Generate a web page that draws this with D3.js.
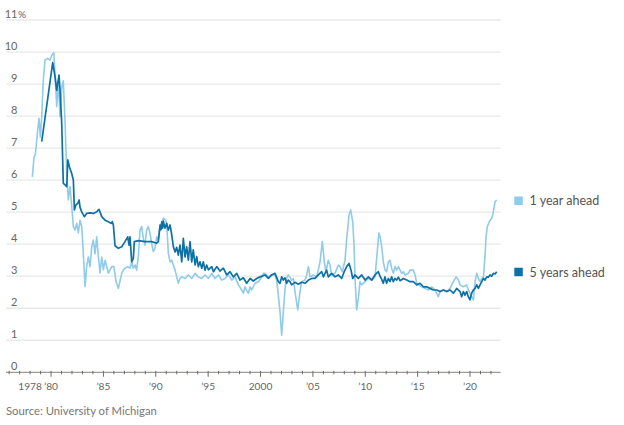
<!DOCTYPE html>
<html>
<head>
<meta charset="utf-8">
<script src="https://cdn.jsdelivr.net/npm/d3@7"></script>
<style>
  html, body { margin: 0; padding: 0; background: #fff; }
  svg { display: block; }
  text { font-family: Lato, "Noto Sans", sans-serif; }
</style>
</head>
<body>
<svg id="chart" width="624" height="425"></svg>
<script>
// ---- Data ----
const oneYearDates = [1978.21,1978.38,1978.5,1978.73,1978.85,1978.98,1979.11,1979.26,1979.43,1979.68,1979.9,1980.07,1980.26,1980.38,1980.54,1980.7,1980.86,1981.02,1981.17,1981.34,1981.5,1981.65,1981.81,1981.98,1982.13,1982.29,1982.45,1982.6,1982.77,1982.93,1983.08,1983.25,1983.4,1983.56,1983.72,1983.89,1984.04,1984.2,1984.36,1984.52,1984.68,1984.84,1985.0,1985.16,1985.47,1985.8,1986.0,1986.2,1986.43,1986.6,1986.75,1986.9,1987.06,1987.32,1987.54,1987.7,1987.86,1988.02,1988.17,1988.33,1988.49,1988.65,1988.81,1988.97,1989.13,1989.29,1989.45,1989.6,1989.76,1989.92,1990.09,1990.24,1990.41,1990.57,1990.72,1990.88,1991.04,1991.2,1991.36,1991.52,1991.67,1991.84,1992.0,1992.15,1992.31,1992.48,1992.8,1993.1,1993.43,1993.75,1994.06,1994.38,1994.7,1995.02,1995.34,1995.66,1995.97,1996.3,1996.61,1996.93,1997.25,1997.57,1997.88,1998.2,1998.36,1998.52,1998.68,1998.84,1999.0,1999.15,1999.47,1999.79,2000.11,2000.27,2000.43,2000.75,2001.06,2001.38,2001.54,2001.7,2001.86,2002.02,2002.18,2002.34,2002.49,2002.65,2002.97,2003.13,2003.29,2003.55,2003.77,2003.93,2004.25,2004.41,2004.57,2004.73,2005.04,2005.36,2005.68,2005.9,2006.09,2006.25,2006.47,2006.63,2006.79,2007.11,2007.43,2007.59,2007.81,2008.07,2008.23,2008.45,2008.61,2008.8,2008.93,2009.02,2009.18,2009.34,2009.5,2009.66,2009.98,2010.3,2010.62,2010.93,2011.09,2011.3,2011.44,2011.57,2011.72,2011.89,2012.04,2012.2,2012.36,2012.52,2012.68,2012.84,2013.0,2013.16,2013.32,2013.48,2013.64,2013.8,2014.11,2014.27,2014.59,2014.75,2014.91,2015.07,2015.39,2015.7,2016.02,2016.34,2016.66,2016.98,2017.14,2017.46,2017.78,2018.09,2018.41,2018.67,2018.89,2019.05,2019.37,2019.68,2019.84,2020.0,2020.16,2020.32,2020.48,2020.64,2020.8,2020.96,2021.12,2021.28,2021.43,2021.53,2021.65,2021.84,2022.07,2022.2,2022.39,2022.55];
const oneYearValues = [6.1,6.73,6.8,7.56,7.93,7.35,7.98,9.12,9.75,9.8,9.75,9.9,9.98,9.33,8.3,9.1,7.98,8.9,9.1,7.8,6.2,5.38,5.8,5.17,4.55,4.44,4.65,4.35,4.75,4.55,3.72,2.67,3.3,3.6,3.3,3.92,4.13,3.7,4.23,3.6,3.1,3.6,3.2,3.5,3.1,3.3,3.3,2.85,2.62,2.88,3.09,3.19,3.25,3.3,3.25,3.45,3.25,3.35,3.19,3.61,4.44,4.55,4.18,3.97,4.44,4.55,4.34,4.03,3.77,3.87,4.23,4.13,4.55,4.65,4.81,4.78,4.65,3.72,3.45,3.5,3.35,3.19,2.98,2.78,2.93,2.98,2.93,3.04,2.93,3.09,2.98,2.93,3.04,2.93,3.09,2.93,3.04,2.88,2.93,3.04,2.88,2.98,2.73,2.57,2.47,2.67,2.55,2.47,2.67,2.57,2.78,2.83,2.96,3.09,3.09,2.98,3.04,3.04,2.88,2.41,1.89,1.16,1.89,2.62,2.93,3.04,2.88,2.93,2.52,1.95,2.52,2.83,2.88,3.04,3.3,2.98,3.04,2.98,3.45,4.08,3.45,3.14,3.5,3.35,3.04,3.09,3.35,3.3,3.14,3.5,4.18,4.91,5.07,4.7,3.97,2.93,1.95,2.31,2.83,2.73,2.83,2.93,2.88,2.98,3.56,4.35,4.2,3.92,3.45,3.19,3.14,3.45,3.5,3.25,3.09,3.3,3.19,3.3,3.19,3.09,3.14,3.04,3.09,3.19,3.19,3.04,2.78,2.73,2.67,2.62,2.57,2.67,2.57,2.36,2.52,2.57,2.52,2.62,2.83,2.98,2.88,2.73,2.67,2.73,2.57,2.47,2.36,2.26,2.83,3.09,2.93,2.83,2.93,2.98,3.61,4.23,4.55,4.7,4.81,4.96,5.33,5.38];

const fiveYearDates = [1979.11,1980.16,1980.38,1980.54,1980.63,1980.76,1980.86,1981.02,1981.17,1981.34,1981.5,1981.6,1981.75,1981.98,1982.13,1982.23,1982.37,1982.56,1982.68,1982.77,1982.93,1983.18,1983.4,1983.72,1984.04,1984.36,1984.58,1984.84,1985.16,1985.47,1985.73,1985.85,1985.95,1986.11,1986.43,1986.75,1987.06,1987.32,1987.45,1987.54,1987.7,1987.86,1987.95,1988.33,1988.97,1989.6,1990.09,1990.24,1990.41,1990.5,1990.57,1990.65,1990.72,1990.88,1991.04,1991.2,1991.36,1991.52,1991.68,1991.84,1992.0,1992.15,1992.31,1992.48,1992.63,1992.79,1992.95,1993.11,1993.27,1993.43,1993.58,1993.75,1993.91,1994.06,1994.22,1994.39,1994.54,1994.7,1994.86,1995.02,1995.34,1995.5,1995.82,1996.13,1996.45,1996.77,1997.09,1997.4,1997.73,1998.04,1998.36,1998.68,1999.0,1999.31,1999.63,1999.95,2000.43,2000.75,2001.06,2001.38,2001.7,2001.86,2002.02,2002.18,2002.34,2002.49,2002.65,2002.81,2002.97,2003.29,2003.61,2003.93,2004.25,2004.57,2004.89,2005.2,2005.52,2005.84,2006.0,2006.31,2006.47,2006.79,2007.11,2007.43,2007.74,2007.99,2008.23,2008.45,2008.64,2008.8,2009.02,2009.34,2009.66,2009.98,2010.3,2010.62,2010.93,2011.25,2011.41,2011.57,2011.72,2011.88,2012.04,2012.2,2012.36,2012.52,2012.68,2012.84,2013.0,2013.16,2013.32,2013.64,2013.96,2014.27,2014.59,2014.91,2015.23,2015.55,2015.86,2016.18,2016.5,2016.82,2017.14,2017.46,2017.78,2018.09,2018.41,2018.73,2019.05,2019.2,2019.37,2019.52,2019.68,2019.84,2020.0,2020.16,2020.32,2020.48,2020.64,2020.8,2020.96,2021.12,2021.28,2021.43,2021.6,2021.75,2021.91,2022.07,2022.23,2022.39,2022.55];
const fiveYearValues = [7.2,9.67,9.23,8.8,9.0,9.28,8.81,7.77,5.9,5.85,5.8,6.63,6.42,6.2,6.0,5.07,5.22,5.28,5.38,5.15,5.01,4.86,4.96,4.98,4.96,5.01,5.09,4.86,4.75,4.7,4.65,4.7,4.6,3.95,3.87,3.92,4.08,4.23,3.97,4.23,3.45,3.56,4.08,4.11,4.08,4.08,4.03,4.08,4.6,4.45,4.7,4.5,4.72,4.5,4.65,4.44,4.6,4.3,3.92,3.76,3.9,3.66,3.97,3.45,4.18,3.6,3.92,3.5,4.08,3.45,3.82,3.35,3.61,3.3,3.45,3.25,3.45,3.19,3.35,3.2,3.3,3.14,3.3,3.16,3.25,3.04,3.14,2.98,3.09,2.88,2.95,2.78,2.93,2.85,2.93,2.98,3.04,2.93,3.04,3.09,2.83,2.78,2.98,2.88,2.95,2.78,2.88,2.83,2.73,2.81,2.75,2.81,2.78,2.88,2.93,2.93,3.04,3.14,2.98,3.19,2.98,3.09,2.98,3.04,2.93,3.14,3.3,3.4,3.19,2.93,3.04,2.93,3.04,2.88,2.98,2.88,3.04,3.14,3.0,2.9,2.78,2.98,2.78,2.93,2.83,2.98,2.83,2.93,2.88,2.97,2.86,2.93,2.88,2.83,2.83,2.73,2.78,2.67,2.67,2.62,2.57,2.57,2.52,2.57,2.52,2.57,2.47,2.62,2.52,2.36,2.52,2.41,2.52,2.36,2.26,2.47,2.57,2.62,2.73,2.62,2.73,2.83,2.93,2.88,2.98,2.97,3.04,3.0,3.09,3.07,3.14];

const yTicks = [0,1,2,3,4,5,6,7,8,9,10,11];
const xMajorTicks = [1980,1985,1990,1995,2000,2005,2010,2015,2020];
const xLabelYears = [1978,1980,1985,1990,1995,2000,2005,2010,2015,2020];
const xLabels = ["1978","\u201980","\u201985","\u201990","\u201995","2000","\u201905","\u201910","\u201915","\u201920"];
const seriesNames = ["1 year ahead","5 years ahead"];
const seriesColors = ["#8fcbea","#0d71a6"];
const sourceText = "Source: University of Michigan";

// ---- Scales ----
const svg = d3.select("#chart");
const x = d3.scaleLinear().domain([1975.7, 2022.93]).range([6, 500.7]);
const y = d3.scaleLinear().domain([0, 11]).range([372.3, 20]);

// gridlines
svg.append("g").selectAll("line").data(yTicks.filter(d => d > 0)).join("line")
  .attr("x1", 6).attr("x2", 500.7)
  .attr("y1", d => y(d)).attr("y2", d => y(d))
  .attr("stroke", "#e9e9e9").attr("stroke-width", 1.3);

// y labels
svg.append("g").selectAll("text").data(yTicks).join("text")
  .attr("x", 17.5).attr("y", d => y(d) - 2.5)
  .attr("text-anchor", "end")
  .attr("font-size", 11).attr("fill", "#666")
  .text(d => d);
svg.append("text").attr("x", 18).attr("y", y(11) - 2.5)
  .attr("font-size", 10).attr("fill", "#666").text("%");

// lines
const line = d3.line().defined(d => d[1] != null).x(d => x(d[0])).y(d => y(d[1]));
const oneYear = oneYearDates.map((d, i) => [d, oneYearValues[i]]);
const fiveYear = fiveYearDates.map((d, i) => [d, fiveYearValues[i]]);
svg.append("path").datum(oneYear).attr("d", line)
  .attr("fill", "none").attr("stroke", seriesColors[0]).attr("stroke-width", 1.6)
  .attr("stroke-linejoin", "round");
svg.append("path").datum(fiveYear).attr("d", line)
  .attr("fill", "none").attr("stroke", seriesColors[1]).attr("stroke-width", 1.7)
  .attr("stroke-linejoin", "round");

// x axis
const axisY = y(0);
svg.append("line").attr("x1", 6).attr("x2", 500.7).attr("y1", axisY).attr("y2", axisY)
  .attr("stroke", "#8a837c").attr("stroke-width", 1);
const minorYears = d3.range(1976, 2023);
svg.append("g").selectAll("line").data(minorYears).join("line")
  .attr("x1", d => x(d)).attr("x2", d => x(d))
  .attr("y1", axisY - 1.5)
  .attr("y2", d => xMajorTicks.includes(d) ? axisY + 4.5 : axisY + 2)
  .attr("stroke", "#6f6a65").attr("stroke-width", 1);
svg.append("g").selectAll("text").data(xLabelYears).join("text")
  .attr("x", d => x(d))
  .attr("y", 390)
  .attr("text-anchor", "middle")
  .attr("font-size", 10.2).attr("fill", "#666")
  .text((d, i) => xLabels[i]);

// legend
const legY = [y(5.38) + 1, y(3.14) + 0.5];
const leg = svg.append("g");
seriesNames.forEach((n, i) => {
  leg.append("rect").attr("x", 514.3).attr("y", legY[i] - 4.5).attr("width", 8.5).attr("height", 8.5)
    .attr("fill", seriesColors[i]);
  leg.append("text").attr("x", 529.5).attr("y", legY[i] + 4.5)
    .attr("font-size", 12.5).attr("fill", "#555").text(n);
});

// source
svg.append("text").attr("x", 6).attr("y", 415)
  .attr("font-size", 11.3).attr("fill", "#777").text(sourceText);
</script>
</body>
</html>
